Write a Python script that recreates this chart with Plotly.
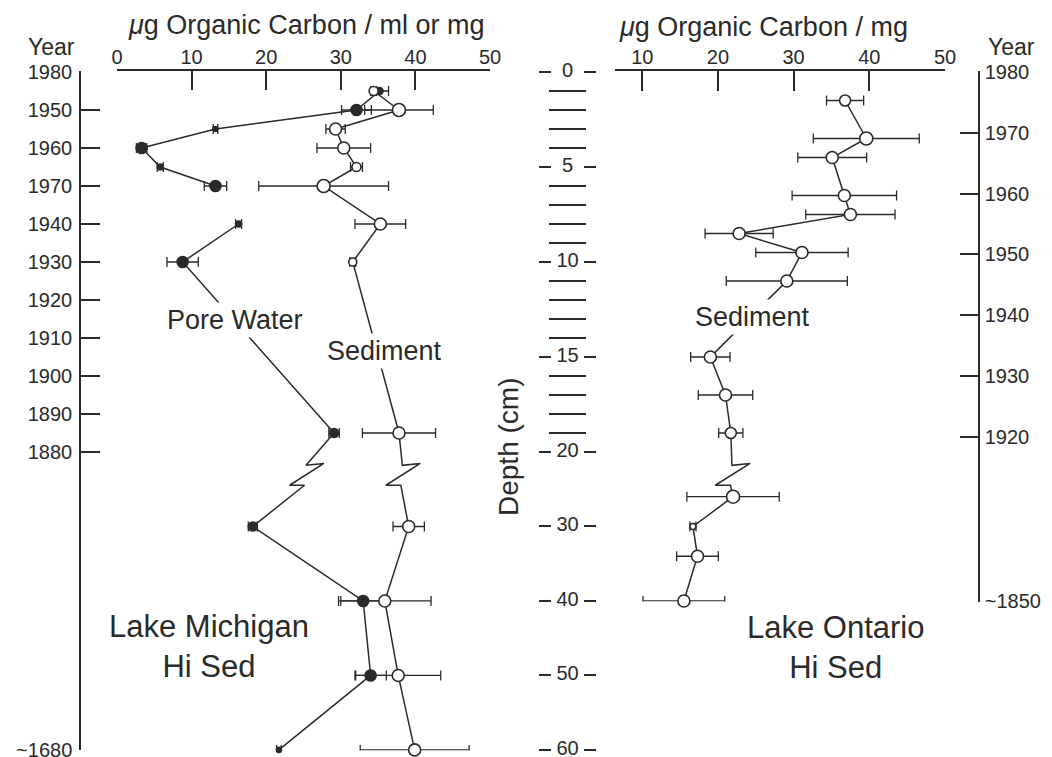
import plotly.graph_objects as go

# ---- Lake Michigan, Hi Sed core (depth in cm, ug organic carbon) ----
mi_sed_depth = [-1, -2, -3, -4, -5, -6, -8, -10, -19, -30, -40, -50, -60]
mi_sed_carbon = [34.4, 37.8, 29.3, 30.4, 32.1, 27.7, 35.3, 31.6, 37.8, 39.1, 35.9, 37.7, 39.9]
mi_sed_err = [0.4, 4.6, 1.3, 3.6, 0.8, 8.7, 3.4, 0.4, 4.9, 2.1, 6.2, 5.7, 7.3]

mi_pore_depth = [-1, -2, -3, -4, -5, -6, -8, -10, -19, -30, -40, -50, -60]
mi_pore_carbon = [35.2, 32.1, 13.2, 3.3, 5.8, 13.2, 16.3, 8.8, 29.1, 18.2, 33.0, 34.0, 21.7]
mi_pore_err = [1.2, 2.0, 0.3, 0.7, 0.4, 1.5, 0.4, 2.1, 0.7, 0.6, 3.0, 2.1, 0.3]
mi_pore_gaps = [-6]   # no line drawn from this sample to the next one

# ---- Lake Ontario, Hi Sed core ----
on_depth = [-1.5, -3.5, -4.5, -6.5, -7.5, -8.5, -9.5, -11, -15, -17, -19, -26, -30, -34, -40]
on_carbon = [36.8, 39.6, 35.1, 36.7, 37.5, 22.8, 31.1, 29.1, 19.0, 21.0, 21.7, 22.0, 16.7, 17.3, 15.5]
on_err = [2.45, 7.0, 4.55, 6.9, 5.9, 4.5, 6.1, 8.0, 2.6, 3.6, 1.6, 6.1, 0.4, 2.75, 5.4]

# ---- axes ----
depth_major = [0, -5, -10, -15, -20, -30, -40, -50, -60]
depth_minor = [d for d in range(-1, -20, -1) if d % 5]
mi_year_depth = [0, -2, -4, -6, -8, -10, -12, -14, -16, -18, -20, -60]
mi_year_text = ['1980', '1950', '1960', '1970', '1940', '1930', '1920', '1910',
                '1900', '1890', '1880', '~1680']
on_year_depth = [0, -3.2, -6.4, -9.6, -12.8, -16.0, -19.2, -40]
on_year_text = ['1980', '1970', '1960', '1950', '1940', '1930', '1920', '~1850']
mi_xticks = [0, 10, 20, 30, 40, 50]
on_xticks = [10, 20, 30, 40, 50]

# ---- style ----
INK = '#2a2a2a'
FONT = 'Liberation Sans, Arial, Helvetica, sans-serif'
W, H = 1052, 757
TOP = 72            # px of the depth-0 line
PX_PER_UNIT = 19.0
BREAK = -20         # depth axis is squeezed below this depth
SQUEEZE = 0.392
EPS = 0.03          # keep end ticks just inside the axis range
ZIG_TOP = -20.7
ZIG = [(0, 0), (2.4, 0.1), (-2.2, -1.05), (-0.2, -1.05)]
mi_sed_size = [9, 13, 12, 12, 9, 13, 12, 8, 12, 12, 12, 12, 12]
mi_pore_size = [7, 11, 5, 11, 6, 11, 6, 11, 9, 9, 11, 11, 5]
on_size = [11, 13, 12, 12, 12, 12, 12, 12, 12, 12, 11, 13, 6, 12, 12]


def pos(d):
    return d if d >= BREAK else BREAK + (d - BREAK) * SQUEEZE


def yrange(lowest):
    return [pos(lowest) - EPS, EPS]


def ydomain(lowest):
    lo, hi = yrange(lowest)
    return [1 - (TOP + PX_PER_UNIT * (hi - lo) - PX_PER_UNIT * hi) / H,
            1 - (TOP - PX_PER_UNIT * hi) / H]


def path(depths, vals, gaps=()):
    xs, ys = [], []
    for i, (d, v) in enumerate(zip(depths, vals)):
        if i > 0:
            d0, v0 = depths[i - 1], vals[i - 1]
            if d0 in gaps:
                xs.append(None)
                ys.append(None)
            elif d0 >= BREAK > d:
                p0, p1 = pos(d0), pos(d)
                xa = v0 + (v - v0) * (ZIG_TOP - p0) / (p1 - p0)
                for dx, dy in ZIG:
                    xs.append(xa + dx)
                    ys.append(ZIG_TOP + dy)
        xs.append(v)
        ys.append(pos(d))
    return xs, ys


def line(depths, vals, xa, ya, gaps=()):
    xs, ys = path(depths, vals, gaps)
    return go.Scatter(x=xs, y=ys, mode='lines', xaxis=xa, yaxis=ya,
                      line=dict(color=INK, width=1.5), hoverinfo='skip')


def points(depths, vals, err, sizes, fill, xa, ya):
    return go.Scatter(x=vals, y=[pos(d) for d in depths], mode='markers',
                      xaxis=xa, yaxis=ya, cliponaxis=False,
                      marker=dict(size=sizes, color=fill, opacity=1,
                                  line=dict(color=INK, width=1.6)),
                      error_x=dict(type='data', array=err, color=INK, thickness=1.3, width=5))


fig = go.Figure()
fig.add_trace(line(mi_pore_depth, mi_pore_carbon, 'x', 'y', mi_pore_gaps))
fig.add_trace(line(mi_sed_depth, mi_sed_carbon, 'x', 'y'))
fig.add_trace(line(on_depth, on_carbon, 'x2', 'y2'))
fig.add_trace(points(mi_pore_depth, mi_pore_carbon, mi_pore_err, mi_pore_size, INK, 'x', 'y'))
fig.add_trace(points(mi_sed_depth, mi_sed_carbon, mi_sed_err, mi_sed_size, 'white', 'x', 'y'))
fig.add_trace(points(on_depth, on_carbon, on_err, on_size, 'white', 'x2', 'y2'))

# centre depth scale labels
fig.add_trace(go.Scatter(x=[0.5] * len(depth_major), y=[pos(d) for d in depth_major],
                         text=[str(abs(d)) for d in depth_major], mode='text',
                         xaxis='x3', yaxis='y3', cliponaxis=False,
                         textfont=dict(size=20, color=INK, family=FONT)))

axis_common = dict(showline=True, linecolor=INK, linewidth=1.5, tickcolor=INK, tickwidth=1.5,
                   showgrid=False, zeroline=False, automargin=False,
                   ticklabeloverflow='allow', tickfont=dict(size=20, color=INK, family=FONT))

fig.update_layout(
    template='none',
    width=W, height=H, margin=dict(l=0, r=0, t=0, b=0, pad=0), autosize=False,
    paper_bgcolor='white', plot_bgcolor='white', showlegend=False,
    font=dict(family=FONT, color=INK),
    xaxis=dict(domain=[117 / W, 490 / W], range=[0, 50], side='top', anchor='y',
               tickmode='array', tickvals=mi_xticks, ticks='inside', ticklen=19,
               ticklabelstandoff=-2, **axis_common),
    yaxis=dict(domain=ydomain(-60), range=yrange(-60), anchor='free', position=80 / W,
               side='left', tickmode='array', tickvals=[pos(d) for d in mi_year_depth],
               ticktext=mi_year_text, ticks='inside', ticklen=19, ticklabelstandoff=3,
               **axis_common),
    xaxis2=dict(domain=[615 / W, 945 / W], range=[6.4, 50], side='top', anchor='y2',
                tickmode='array', tickvals=on_xticks, ticks='inside', ticklen=20,
                ticklabelstandoff=-2, **axis_common),
    yaxis2=dict(domain=ydomain(-40), range=yrange(-40), anchor='free', position=979 / W,
                side='right', tickmode='array', tickvals=[pos(d) for d in on_year_depth],
                ticktext=on_year_text, ticks='inside', ticklen=18, ticklabelstandoff=1,
                **axis_common),
    xaxis3=dict(domain=[552 / W, 583 / W], range=[0, 1], showline=False, showgrid=False,
                zeroline=False, showticklabels=False, ticks='', automargin=False),
    yaxis3=dict(domain=ydomain(-60), range=yrange(-60), anchor='x3', showline=False,
                showgrid=False, zeroline=False, showticklabels=False, automargin=False,
                tickmode='array', tickvals=[pos(d) for d in depth_major],
                ticks='outside', ticklen=12, tickwidth=1.5, tickcolor=INK, mirror='ticks',
                minor=dict(tickmode='array', tickvals=[pos(d) for d in depth_minor],
                           ticks='inside', ticklen=34, tickwidth=1.5, tickcolor=INK)),
)


def label(text, x, y, size, ref='paper', angle=0, bg=None):
    fig.add_annotation(text=text, x=x, y=y, xref=ref if ref == 'paper' else ref[0],
                       yref=ref if ref == 'paper' else ref[1], showarrow=False,
                       textangle=angle, font=dict(size=size, color=INK, family=FONT),
                       bgcolor=bg, borderpad=2, xanchor='center', yanchor='middle')


label('<i>\u03bc</i>g Organic Carbon / ml or mg', 306 / W, 1 - 25 / H, 27)
label('<i>\u03bc</i>g Organic Carbon / mg', 763 / W, 1 - 27 / H, 27)
label('Year', 51 / W, 1 - 47 / H, 23)
label('Year', 1011 / W, 1 - 47 / H, 23)
label('Depth (cm)', 508 / W, 1 - 447 / H, 28, angle=-90)
label('Lake Michigan<br>Hi Sed', 209 / W, 1 - 646 / H, 31)
label('Lake Ontario<br>Hi Sed', 836 / W, 1 - 647 / H, 31)
label('Pore Water', 15.8, -13.05, 27, ref=('x', 'y'), bg='white')
label('Sediment', 35.9, -14.7, 27, ref=('x', 'y'), bg='white')
label('Sediment', 24.5, -12.9, 27, ref=('x2', 'y2'), bg='white')

# the page's default 8px body margin would push the fixed-size figure off the window
fig.write_html("out.html", config={'displayModeBar': False},
               post_script="document.body.style.margin='0';document.body.style.overflow='hidden';")
